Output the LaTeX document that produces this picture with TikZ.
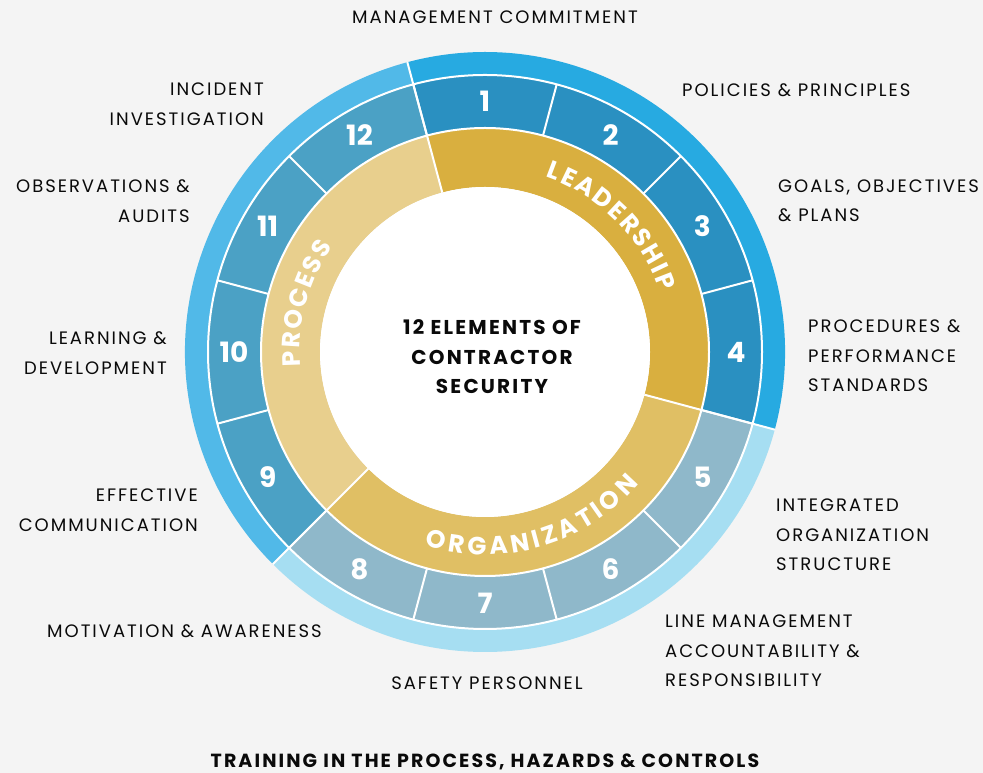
\documentclass[tikz,border=0pt]{standalone}
\usepackage{fontspec}
\setmainfont[LetterSpace=11]{Poppins}
\newfontfamily\ringfamily{Poppins}
\definecolor{pagebg}{HTML}{F4F4F4}
\definecolor{ringlead}{HTML}{27AAE1}
\definecolor{ringorg}{HTML}{A6DEF2}
\definecolor{ringproc}{HTML}{51B9E8}
\definecolor{seglead}{HTML}{2A90C1}
\definecolor{segorg}{HTML}{8FB8CA}
\definecolor{segproc}{HTML}{4BA1C5}
\definecolor{goldlead}{HTML}{D9AF3F}
\definecolor{goldorg}{HTML}{E0BF64}
\definecolor{goldproc}{HTML}{E8CF8D}
\definecolor{inktext}{HTML}{0A0A0A}
\newcommand{\ringfont}{\ringfamily\bfseries\fontsize{25}{25}\selectfont}
% letter/arc offset pairs, mid angle, radius, sense (-1 clockwise, 1 anticlockwise), name
\newcommand{\ringword}[5]{%
  \foreach \ch/\off [count=\n] in {#1}{%
    \pgfmathsetmacro{\ang}{#2+(#4)*\off/#3*57.2958}%
    \pgfmathsetmacro{\rot}{\ang+(#4)*90}%
    \node[ringchar, rotate=\rot] (#5\n) at (\ang:#3) {\ch};
  }%
}
\tikzset{
  divider/.style={white, line width=2},
  segnum/.style={text=white, inner sep=0, font=\ringfamily\bfseries\fontsize{28}{28}\selectfont},
  ringchar/.style={text=white, inner sep=0, text height=17.5pt, text depth=0pt, font=\ringfont},
  itemtext/.style={text=inktext, inner sep=0, font=\fontsize{18}{29.5}\selectfont},
  coretext/.style={text=inktext, inner sep=0, align=center, font=\bfseries\fontsize{20}{29.5}\selectfont}
}
\begin{document}
\begin{tikzpicture}[x=1pt, y=1pt]
  \useasboundingbox (0,0) rectangle (983,773);
  \fill[pagebg] (0,0) rectangle (983,773);

  \def\Rout{300}
  \def\Rmid{277}
  \def\Sin{224}
  \def\Gin{165}
  \def\Rnum{251}
  \def\Rword{194}

  \begin{scope}[shift={(485,421)}]
    \foreach \aS/\aE/\cRing/\cSeg/\cGold in {-15/105/ringlead/seglead/goldlead, -135/-15/ringorg/segorg/goldorg, 105/225/ringproc/segproc/goldproc}{
      \fill[\cRing] (\aS:\Rout) arc[start angle=\aS, end angle=\aE, radius=\Rout] -- (\aE:\Rmid) arc[start angle=\aE, end angle=\aS, radius=\Rmid] -- cycle;
      \fill[\cSeg] (\aS:\Rmid) arc[start angle=\aS, end angle=\aE, radius=\Rmid] -- (\aE:\Sin) arc[start angle=\aE, end angle=\aS, radius=\Sin] -- cycle;
      \fill[\cGold] (\aS:\Sin) arc[start angle=\aS, end angle=\aE, radius=\Sin] -- (\aE:\Gin) arc[start angle=\aE, end angle=\aS, radius=\Gin] -- cycle;
    }
    \fill[white] (0,0) circle (\Gin);

    \draw[divider] (0,0) circle (\Rmid);
    \draw[divider] (0,0) circle (\Sin);
    \foreach \k in {0,...,11}
      \draw[divider] ({15+30*\k}:\Sin) -- ({15+30*\k}:\Rmid);
    \foreach \a in {105,-15,-135}
      \draw[divider] (\a:\Gin) -- (\a:\Rout);

    \foreach \i in {1,...,12}
      \node[segnum] (num\i) at ({120-30*\i}:\Rnum) {\i};

    % ring titles
    \ringword{L/-82.1, E/-65.6, A/-46.5, D/-25.4, E/-6.4, R/11.8, S/30.4, H/50.1, I/66.0, P/80.6}{45}{\Rword}{-1}{lead}
    \ringword{O/-103.5, R/-82.5, G/-62.1, A/-40.8, N/-19.1, I/-3.0, Z/11.3, A/31.0, T/50.8, I/65.0, O/81.5, N/103.9}{-74}{\Rword}{1}{org}
    \ringword{P/-57.8, R/-38.6, O/-17.6, C/4.0, E/22.8, S/40.3, S/58.3}{165}{\Rword}{-1}{proc}

    \node[coretext] (core) at (7,-5) {12 ELEMENTS OF\\CONTRACTOR\\SECURITY};
  \end{scope}

  \node[itemtext] (lab1) at (495,756) {MANAGEMENT COMMITMENT};
  \node[itemtext, anchor=west] (lab2) at (682,683) {POLICIES \& PRINCIPLES};
  \node[itemtext, anchor=west, align=left] (lab3) at (778,572) {GOALS, OBJECTIVES\\\& PLANS};
  \node[itemtext, anchor=west, align=left] (lab4) at (808,417) {PROCEDURES \&\\PERFORMANCE\\STANDARDS};
  \node[itemtext, anchor=west, align=left] (lab5) at (776,238) {INTEGRATED\\ORGANIZATION\\STRUCTURE};
  \node[itemtext, anchor=west, align=left] (lab6) at (665,122) {LINE MANAGEMENT\\ACCOUNTABILITY \&\\RESPONSIBILITY};
  \node[itemtext] (lab7) at (487,90) {SAFETY PERSONNEL};
  \node[itemtext, anchor=east] (lab8) at (322,142) {MOTIVATION \& AWARENESS};
  \node[itemtext, anchor=east, align=right] (lab9) at (198,263) {EFFECTIVE\\COMMUNICATION};
  \node[itemtext, anchor=east, align=right] (lab10) at (167,420) {LEARNING \&\\DEVELOPMENT};
  \node[itemtext, anchor=east, align=right] (lab11) at (190,572) {OBSERVATIONS \&\\AUDITS};
  \node[itemtext, anchor=east, align=right] (lab12) at (264,669) {INCIDENT\\INVESTIGATION};

  \node[coretext, font=\bfseries\fontsize{19}{19}\selectfont] (title) at (485,11) {TRAINING IN THE PROCESS, HAZARDS \& CONTROLS};
\end{tikzpicture}
\end{document}
